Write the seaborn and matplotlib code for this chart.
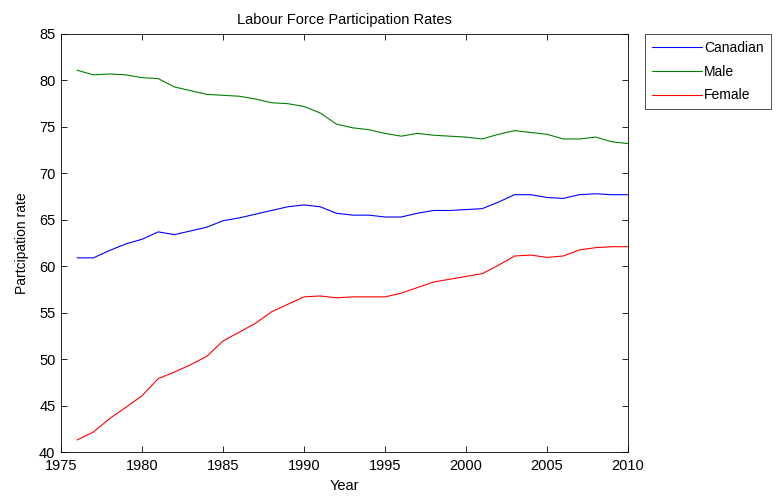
import matplotlib
matplotlib.use("Agg")
import matplotlib.pyplot as plt
import pandas as pd
import seaborn as sns

years = list(range(1976, 2011))
canadian = [60.9, 60.9, 61.7, 62.4, 62.9, 63.7, 63.4, 63.8, 64.2, 64.9,
            65.2, 65.6, 66.0, 66.4, 66.6, 66.4, 65.7, 65.5, 65.5, 65.3,
            65.3, 65.7, 66.0, 66.0, 66.1, 66.2, 66.9, 67.7, 67.7, 67.4,
            67.3, 67.7, 67.8, 67.7, 67.7]
male = [81.1, 80.6, 80.7, 80.6, 80.3, 80.2, 79.3, 78.9, 78.5, 78.4,
        78.3, 78.0, 77.6, 77.5, 77.2, 76.5, 75.3, 74.9, 74.7, 74.3,
        74.0, 74.3, 74.1, 74.0, 73.9, 73.7, 74.2, 74.6, 74.4, 74.2,
        73.7, 73.7, 73.9, 73.4, 73.2]
female = [41.3, 42.15, 43.6, 44.8, 46.05, 47.9, 48.6, 49.4, 50.3, 51.95,
          52.9, 53.85, 55.1, 55.9, 56.7, 56.8, 56.6, 56.7, 56.7, 56.7,
          57.1, 57.7, 58.3, 58.6, 58.9, 59.2, 60.1, 61.1, 61.2, 60.95,
          61.1, 61.75, 62.0, 62.1, 62.1]
series_names = ["Canadian", "Male", "Female"]
x_ticks = list(range(1975, 2011, 5))
y_ticks = list(range(40, 86, 5))

df = pd.DataFrame({
    "Year": years * 3,
    "rate": canadian + male + female,
    "series": [n for n in series_names for _ in years],
})

sns.set_theme(style="white")
plt.rcParams["font.family"] = ["Liberation Sans", "DejaVu Sans"]

fig = plt.figure(figsize=(7.77, 4.97), dpi=100)
ax = fig.add_axes([61 / 777, 1 - 452 / 497, (628 - 61) / 777, (452 - 34) / 497])

palette = {"Canadian": (0, 0, 1), "Male": (0, 0.5, 0), "Female": (1, 0, 0)}
sns.lineplot(data=df, x="Year", y="rate", hue="series", palette=palette,
             linewidth=0.8, ax=ax, legend=False)

ax.set_xlim(1975, 2010)
ax.set_ylim(40, 85)
ax.set_xticks(x_ticks)
ax.set_yticks(y_ticks)
ax.set_xticklabels([str(t) for t in x_ticks], fontsize=10.5)
ax.set_yticklabels([str(t) for t in y_ticks], fontsize=10.5)
ax.tick_params(direction="in", length=4, width=0.6, color="black",
               top=True, right=True, bottom=True, left=True, pad=5,
               labelcolor="black")
ax.tick_params(axis="y", pad=4)
for s in ax.spines.values():
    s.set_visible(True)
    s.set_color("black")
    s.set_linewidth(0.6)

ax.set_xlabel("Year", fontsize=10.5, labelpad=4, color="black")
ax.set_ylabel("Partcipation rate", fontsize=10, labelpad=7, color="black")
ax.set_title("Labour Force Participation Rates", fontsize=10.5, pad=7,
             color="black")

handles = [plt.Line2D([], [], color=palette[n], linewidth=0.8) for n in series_names]
leg = fig.legend(handles, series_names, loc="upper left",
                 bbox_to_anchor=(645 / 777, 1 - 34 / 497), borderaxespad=0,
                 fontsize=10, handlelength=3.6, handletextpad=0.15,
                 labelspacing=0.7, borderpad=0.5, fancybox=False,
                 frameon=True)
leg.get_frame().set_edgecolor("black")
leg.get_frame().set_linewidth(0.6)
for t in leg.get_texts():
    t.set_color("black")

fig.savefig("out.png", dpi=100, facecolor="white")
